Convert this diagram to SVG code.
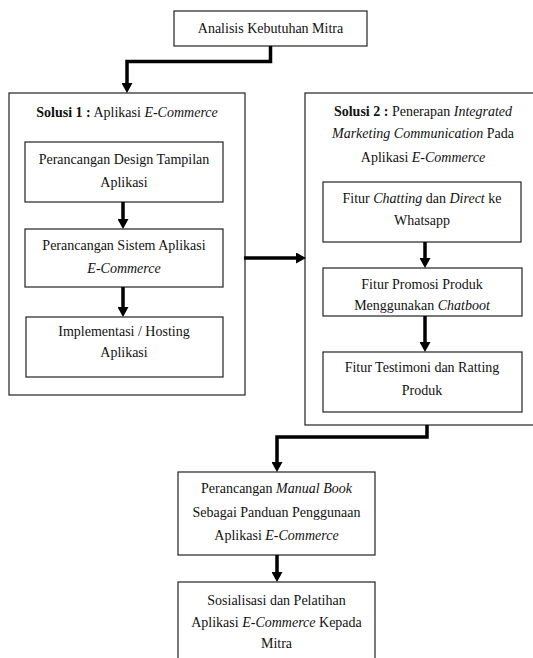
<svg xmlns="http://www.w3.org/2000/svg" width="533" height="658" viewBox="0 0 533 658">
<style>
text{font-family:"Liberation Serif","Times New Roman",serif;font-size:14px;fill:#111;text-anchor:middle}
.b{font-weight:bold}
.i{font-style:italic}
rect{fill:#fff;stroke:#222;stroke-width:1.2}
.con path{fill:none;stroke:#000;stroke-width:3.5;marker-end:url(#ah)}
</style>
<defs>
<marker id="ah" viewBox="0 0 10 11" refX="0" refY="5.5" markerUnits="userSpaceOnUse" markerWidth="10" markerHeight="11" orient="auto">
<path d="M0,0 L10,5.5 L0,11 z" fill="#000"/>
</marker>
</defs>
<rect x="0" y="0" width="533" height="658" style="fill:#fff;stroke:none"/>
<g id="analisis">
<rect x="174" y="11" width="193" height="35"/>
<text x="270.5" y="33">Analisis Kebutuhan Mitra</text>
</g>
<g id="solusi1">
<rect x="9" y="93" width="236" height="302"/>
<text x="127" y="117"><tspan class="b">Solusi 1 :</tspan> Aplikasi <tspan class="i">E-Commerce</tspan></text>
</g>
<g id="design">
<rect x="25" y="142" width="198" height="60"/>
<text x="124" y="164">Perancangan Design Tampilan</text>
<text x="124" y="187">Aplikasi</text>
</g>
<g id="sistem">
<rect x="25" y="229" width="198" height="58"/>
<text x="124" y="250">Perancangan Sistem Aplikasi</text>
<text x="124" y="273" class="i">E-Commerce</text>
</g>
<g id="implementasi">
<rect x="26" y="317" width="197" height="60"/>
<text x="124" y="336">Implementasi / Hosting</text>
<text x="124" y="357">Aplikasi</text>
</g>
<g id="solusi2">
<rect x="305" y="93" width="240" height="332"/>
<text x="423" y="116"><tspan class="b">Solusi 2 :</tspan> Penerapan <tspan class="i">Integrated</tspan></text>
<text x="423" y="138"><tspan class="i">Marketing Communication</tspan> Pada</text>
<text x="423" y="162">Aplikasi <tspan class="i">E-Commerce</tspan></text>
</g>
<g id="chatting">
<rect x="323" y="182" width="198" height="60"/>
<text x="422" y="203">Fitur <tspan class="i">Chatting</tspan> dan <tspan class="i">Direct</tspan> ke</text>
<text x="422" y="225">Whatsapp</text>
</g>
<g id="promosi">
<rect x="323" y="268" width="199" height="48"/>
<text x="422" y="289">Fitur Promosi Produk</text>
<text x="422" y="310">Menggunakan <tspan class="i">Chatboot</tspan></text>
</g>
<g id="testimoni">
<rect x="323" y="352" width="199" height="60"/>
<text x="422" y="372">Fitur Testimoni dan Ratting</text>
<text x="422" y="395">Produk</text>
</g>
<g id="manual">
<rect x="178" y="472" width="197" height="83"/>
<text x="276.5" y="493">Perancangan <tspan class="i">Manual Book</tspan></text>
<text x="276.5" y="517">Sebagai Panduan Penggunaan</text>
<text x="276.5" y="540">Aplikasi <tspan class="i">E-Commerce</tspan></text>
</g>
<g id="sosialisasi">
<rect x="178" y="582" width="197" height="80"/>
<text x="276.5" y="605">Sosialisasi  dan Pelatihan</text>
<text x="276.5" y="627">Aplikasi <tspan class="i">E-Commerce</tspan> Kepada</text>
<text x="276.5" y="648">Mitra</text>
</g>
<g id="connectors" class="con">
<path d="M270.5,46 V61.5 H127 V83"/>
<path d="M123,202 V219"/>
<path d="M123,287 V307"/>
<path d="M244,258 H296"/>
<path d="M425,242 V258"/>
<path d="M425,316 V342"/>
<path d="M427,425 V437 H277 V462"/>
<path d="M277,555 V572"/>
</g>
</svg>
